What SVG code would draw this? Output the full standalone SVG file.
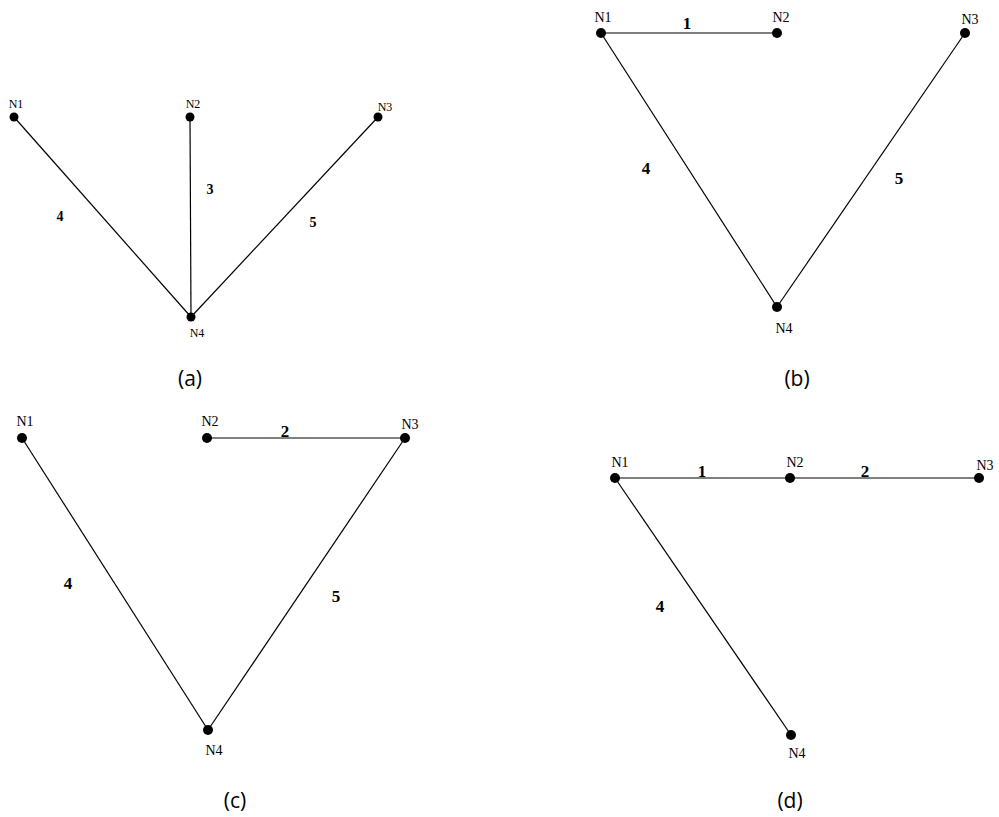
<svg xmlns="http://www.w3.org/2000/svg" width="999" height="817" viewBox="0 0 999 817">
<style>
.e{stroke:#000;stroke-width:1.2;fill:none}
.d{fill:#000}
.n{font-family:"Liberation Serif",serif;font-size:14px;text-anchor:middle;fill:#000}
.ns{font-family:"Liberation Serif",serif;font-size:12px;text-anchor:middle;fill:#000}
.w{font-family:"Liberation Serif",serif;font-size:17px;font-weight:bold;text-anchor:middle;fill:#000}
.ws{font-family:"Liberation Serif",serif;font-size:14px;font-weight:bold;text-anchor:middle;fill:#000}
.c{font-family:"Open Sans","Liberation Sans",sans-serif;font-size:21px;text-anchor:middle;fill:#000}
</style>
<rect width="999" height="817" fill="#fff"/>
<g id="connectors">
<line class="e" x1="14" y1="117" x2="191" y2="317"/>
<line class="e" x1="190" y1="117" x2="191" y2="317"/>
<line class="e" x1="378" y1="117" x2="191" y2="317"/>
<line class="e" x1="601" y1="33" x2="777" y2="33"/>
<line class="e" x1="601" y1="33" x2="777" y2="307"/>
<line class="e" x1="965" y1="33" x2="777" y2="307"/>
<line class="e" x1="207" y1="438" x2="405" y2="438"/>
<line class="e" x1="22" y1="438" x2="208" y2="730"/>
<line class="e" x1="405" y1="438" x2="208" y2="730"/>
<line class="e" x1="615" y1="478" x2="979" y2="478"/>
<line class="e" x1="615" y1="478" x2="791" y2="735"/>
</g>
<g id="edge-labels">
<text class="ws" x="60" y="221">4</text>
<text class="ws" x="210" y="194">3</text>
<text class="ws" x="313" y="227">5</text>
<text class="w" x="687" y="29">1</text>
<text class="w" x="646" y="174">4</text>
<text class="w" x="899" y="184">5</text>
<text class="w" x="285" y="437">2</text>
<text class="w" x="68" y="589">4</text>
<text class="w" x="336" y="602">5</text>
<text class="w" x="702" y="477">1</text>
<text class="w" x="865" y="477">2</text>
<text class="w" x="660" y="612">4</text>
</g>
<g id="a-N1"><circle class="d" cx="14" cy="117" r="4.5"/><text class="ns" x="16" y="108">N1</text></g>
<g id="a-N2"><circle class="d" cx="190" cy="117" r="4.5"/><text class="ns" x="193" y="108">N2</text></g>
<g id="a-N3"><circle class="d" cx="378" cy="117" r="4.5"/><text class="ns" x="385" y="111">N3</text></g>
<g id="a-N4"><circle class="d" cx="191" cy="317" r="4.5"/><text class="ns" x="197" y="337">N4</text></g>
<text class="c" x="190" y="386">(a)</text>
<g id="b-N1"><circle class="d" cx="601" cy="33" r="5"/><text class="n" x="603" y="22">N1</text></g>
<g id="b-N2"><circle class="d" cx="777" cy="33" r="5"/><text class="n" x="781" y="22">N2</text></g>
<g id="b-N3"><circle class="d" cx="965" cy="33" r="5"/><text class="n" x="970" y="24">N3</text></g>
<g id="b-N4"><circle class="d" cx="777" cy="307" r="5"/><text class="n" x="784" y="333">N4</text></g>
<text class="c" x="797" y="386">(b)</text>
<g id="c-N1"><circle class="d" cx="22" cy="438" r="5"/><text class="n" x="25" y="426">N1</text></g>
<g id="c-N2"><circle class="d" cx="207" cy="438" r="5"/><text class="n" x="210" y="426">N2</text></g>
<g id="c-N3"><circle class="d" cx="405" cy="438" r="5"/><text class="n" x="410" y="429">N3</text></g>
<g id="c-N4"><circle class="d" cx="208" cy="730" r="5"/><text class="n" x="214" y="755">N4</text></g>
<text class="c" x="235" y="808">(c)</text>
<g id="d-N1"><circle class="d" cx="615" cy="478" r="5"/><text class="n" x="620" y="467">N1</text></g>
<g id="d-N2"><circle class="d" cx="790" cy="478" r="5"/><text class="n" x="795" y="467">N2</text></g>
<g id="d-N3"><circle class="d" cx="979" cy="478" r="5"/><text class="n" x="985" y="470">N3</text></g>
<g id="d-N4"><circle class="d" cx="791" cy="735" r="5"/><text class="n" x="797" y="758">N4</text></g>
<text class="c" x="790" y="808">(d)</text>
</svg>
